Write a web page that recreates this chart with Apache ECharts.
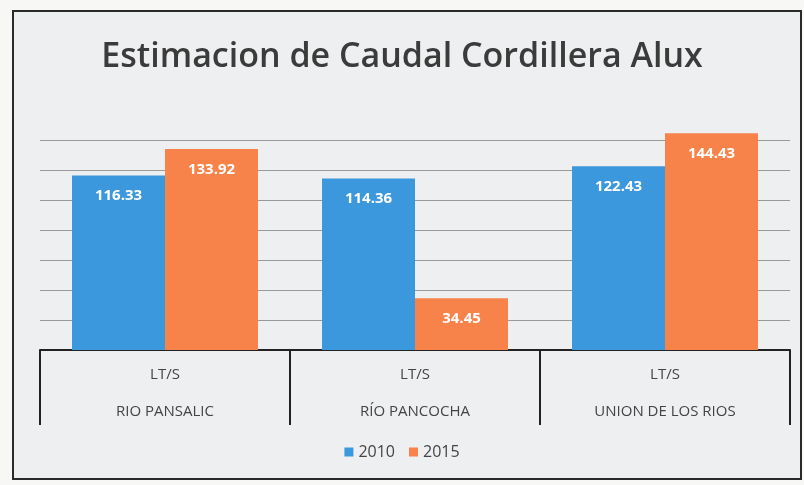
<!DOCTYPE html>
<html>
<head>
<meta charset="utf-8">
<script src="https://cdn.jsdelivr.net/npm/echarts@6/dist/echarts.min.js"></script>
<style>
  html, body { margin: 0; padding: 0; background: #f7f7f6; }
  .frame {
    position: absolute;
    left: 12px; top: 10px;
    width: 790px; height: 470px;
    border: 2px solid #2a2a2a;
    background: #eeeff0;
    box-sizing: border-box;
  }
  #chart { position: absolute; left: 0; top: 0; width: 804px; height: 485px; }
</style>
</head>
<body>
<div class="frame"></div>
<div id="chart"></div>
<script>
const titleText = 'Estimacion de Caudal Cordillera Alux'
const unitLabel = 'LT/S'
const categories = ['RIO PANSALIC', 'RÍO PANCOCHA', 'UNION DE LOS RIOS']
const seriesNames = ['2010', '2015']
const values2010 = [116.33, 114.36, 122.43]
const values2015 = [133.92, 34.45, 144.43]

let myChart = echarts.init(document.getElementById('chart'))
let labelStyle = {
  show: true,
  position: 'insideTop',
  distance: 13,
  color: '#fff',
  fontWeight: 'bold',
  fontSize: 15,
  fontFamily: 'Open Sans',
  formatter: (p) => p.value.toFixed(2),
}
// la linea superior (160) no se ve en el original
let gridColors = ['#9a9a9a', '#9a9a9a', '#9a9a9a', '#9a9a9a', '#9a9a9a', '#9a9a9a', '#9a9a9a', '#9a9a9a', 'rgba(0,0,0,0)']
let option = {
  backgroundColor: 'transparent',
  title: {
    text: titleText,
    left: 'center',
    top: 35,
    textStyle: {
      fontFamily: 'Open Sans',
      fontWeight: 600,
      fontSize: 34,
      color: '#3b3b3b',
    },
  },
  legend: {
    data: seriesNames,
    bottom: 20,
    left: 'center',
    icon: 'rect',
    itemWidth: 9,
    itemHeight: 9,
    itemGap: 14,
    textStyle: { fontFamily: 'Open Sans', fontSize: 16, color: '#444' },
  },
  grid: {
    left: 40,
    right: 14,
    top: 110,
    bottom: 135,
  },
  xAxis: {
    type: 'category',
    data: categories,
    axisLine: { lineStyle: { color: '#222', width: 2 } },
    axisTick: {
      show: true,
      interval: 0,
      length: 75,
      lineStyle: { color: '#222', width: 2 },
    },
    axisLabel: {
      interval: 0,
      margin: 6,
      formatter: (v) => `{u|${unitLabel}}\n{n|${v}}`,
      rich: {
        u: { fontFamily: 'Open Sans', fontSize: 15, color: '#444', lineHeight: 38 },
        n: { fontFamily: 'Open Sans', fontSize: 15, color: '#444', lineHeight: 36 },
      },
    },
  },
  yAxis: {
    type: 'value',
    min: 0,
    max: 160,
    interval: 20,
    axisLabel: { show: false },
    axisLine: { show: false },
    axisTick: { show: false },
    splitLine: { lineStyle: { color: gridColors, width: 1 } },
  },
  series: [
    {
      name: seriesNames[0],
      type: 'bar',
      data: values2010,
      barWidth: 93,
      barGap: '0%',
      itemStyle: { color: '#3b98dc' },
      label: labelStyle,
    },
    {
      name: seriesNames[1],
      type: 'bar',
      data: values2015,
      barWidth: 93,
      barGap: '0%',
      itemStyle: { color: '#f7834a' },
      label: labelStyle,
    },
  ],
}
option && myChart.setOption(option)
</script>
</body>
</html>
